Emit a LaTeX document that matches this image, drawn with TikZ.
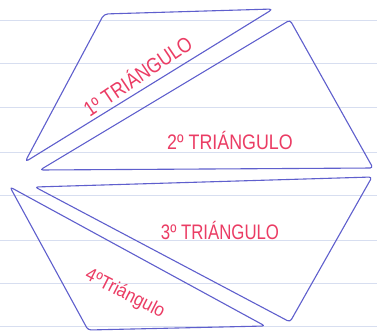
\documentclass[tikz,border=0pt]{standalone}
\usepackage{fontspec}
\setmainfont{Liberation Sans}
\definecolor{pen}{RGB}{95,95,205}
\definecolor{ink}{RGB}{235,60,100}
\definecolor{rule}{RGB}{215,222,240}
\begin{document}
\begin{tikzpicture}[x=1pt,y=-1pt,
  tri/.style={draw=pen,line width=1.1pt,line join=round},
  lbl/.style={text=ink,font=\fontsize{21}{21}\selectfont,inner sep=0pt},
  ruled/.style={draw=rule,line width=0.6pt}]
\useasboundingbox (0,0) rectangle (377,335);
\fill[white] (0,0) rectangle (377,335);
\foreach \y in {20,63,107,152,195,240,283,326}
  \draw[ruled] (0,\y) -- (377,\y);
% triangle 1
\coordinate (a1) at (104,14);
\coordinate (a2) at (273,9);
\coordinate (a3) at (25,162);
\draw[tri,rounded corners=4pt] (a1) -- (a2) -- (a3) -- cycle;
% triangle 2
\coordinate (b1) at (290,20);
\coordinate (b2) at (373,168);
\coordinate (b3) at (40,170);
\draw[tri,rounded corners=3pt] (b1) -- (b2) -- (b3) -- cycle;
% triangle 3
\coordinate (c1) at (35,187);
\coordinate (c2) at (372,177);
\coordinate (c3) at (290,322);
\draw[tri,rounded corners=3pt] (c1) -- (c2) -- (c3) -- cycle;
% triangle 4
\coordinate (d1) at (10,187);
\coordinate (d2) at (265,326);
\coordinate (d3) at (88,330);
\draw[tri,rounded corners=3pt] (d1) -- (d2) -- (d3) -- cycle;
% labels
\node[lbl,rotate=34,xscale=0.85] (t1) at (137,75) {1º TRIÁNGULO};
\node[lbl,xscale=0.85] (t2) at (230,140) {2º TRIÁNGULO};
\node[lbl,xscale=0.8] (t3) at (220,230) {3º TRIÁNGULO};
\node[lbl,rotate=-27,xscale=0.9,font=\fontsize{19}{19}\selectfont] (t4) at (125,294) {4ºTriángulo};
\end{tikzpicture}
\end{document}
